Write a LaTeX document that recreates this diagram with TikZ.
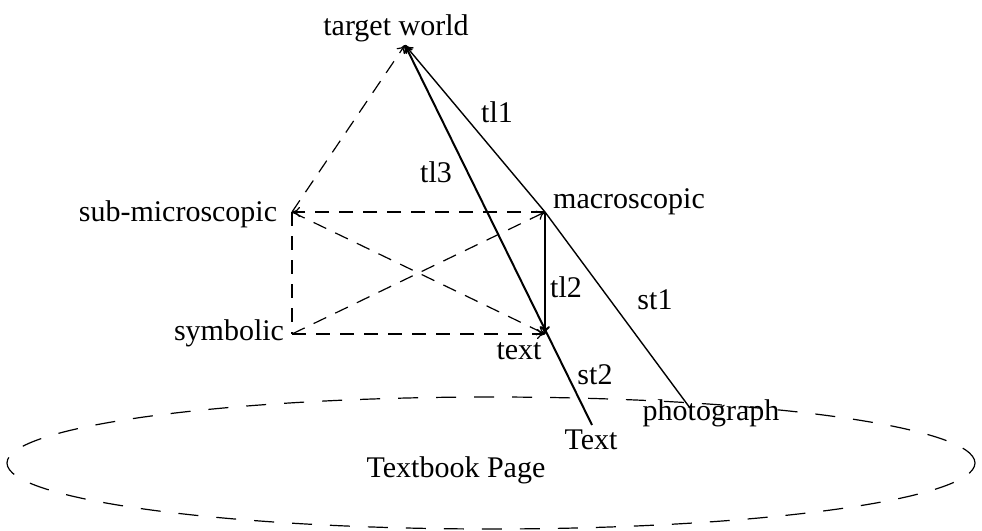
\documentclass[tikz,border=0pt]{standalone}
\usepackage{fontspec}
\setmainfont{Liberation Serif}
\usetikzlibrary{arrows.meta}
\begin{document}
\begin{tikzpicture}[x=0.5pt, y=-0.5pt, >={To[length=4pt,width=5pt]},
		lbl/.style = {font=\fontsize{15}{18}\selectfont, inner sep=0pt},
		dsh/.style = {dash pattern=on 7pt off 5pt, line width=0.6pt},
		pg/.style = {dash pattern=on 10pt off 9pt, line width=0.6pt},
		ln/.style = {line width=0.7pt}]
		\useasboundingbox (0,0) rectangle (982,531);
		% corners of the triangle of representations
		\coordinate (tw) at (405,45);
		\coordinate (sm) at (292,212);
		\coordinate (ma) at (545,212);
		\coordinate (sy) at (292,334);
		\coordinate (tx) at (545,334);
		\coordinate (Tx) at (592,425);
		\coordinate (ph) at (690,408);
		% labels
		\node[lbl] (twl) at (396,28) {target world};
		\node[lbl] (sml) at (178,214) {sub-microscopic};
		\node[lbl] (mal) at (629,202) {macroscopic};
		\node[lbl] (syl) at (229,333) {symbolic};
		\node[lbl] (txl) at (519,351) {text};
		\node[lbl] (Txl) at (591,440) {Text};
		\node[lbl] (phl) at (711,413) {photograph};
		\node[lbl] (tbp) at (456,470) {Textbook Page};
		\node[lbl] (tl1) at (497,112) {tl1};
		\node[lbl] (tl3) at (436,172) {tl3};
		\node[lbl] (tl2) at (566,287) {tl2};
		\node[lbl] (st1) at (655,300) {st1};
		\node[lbl] (st2) at (595,375) {st2};
		% the page
		\draw[pg] (491,463) ellipse [x radius=242pt, y radius=33pt];
		% dashed links
		\draw[dsh,->] (sm) -- (tw);
		\draw[dsh,->] (ma) -- (sm);
		\draw[dsh] (sm) -- (sy);
		\draw[dsh,->] (sy) -- (tx);
		\draw[dsh,->] (sm) -- (tx);
		\draw[dsh,->] (sy) -- (ma);
		% solid links
		\draw[ln,line width=1pt,->] (ma) -- (tx);
		\draw[ln,line width=1pt,->] (Tx) -- (tw);
		\draw[ln,->] (ph) -- (ma) -- (tw);
	\end{tikzpicture}
\end{document}
